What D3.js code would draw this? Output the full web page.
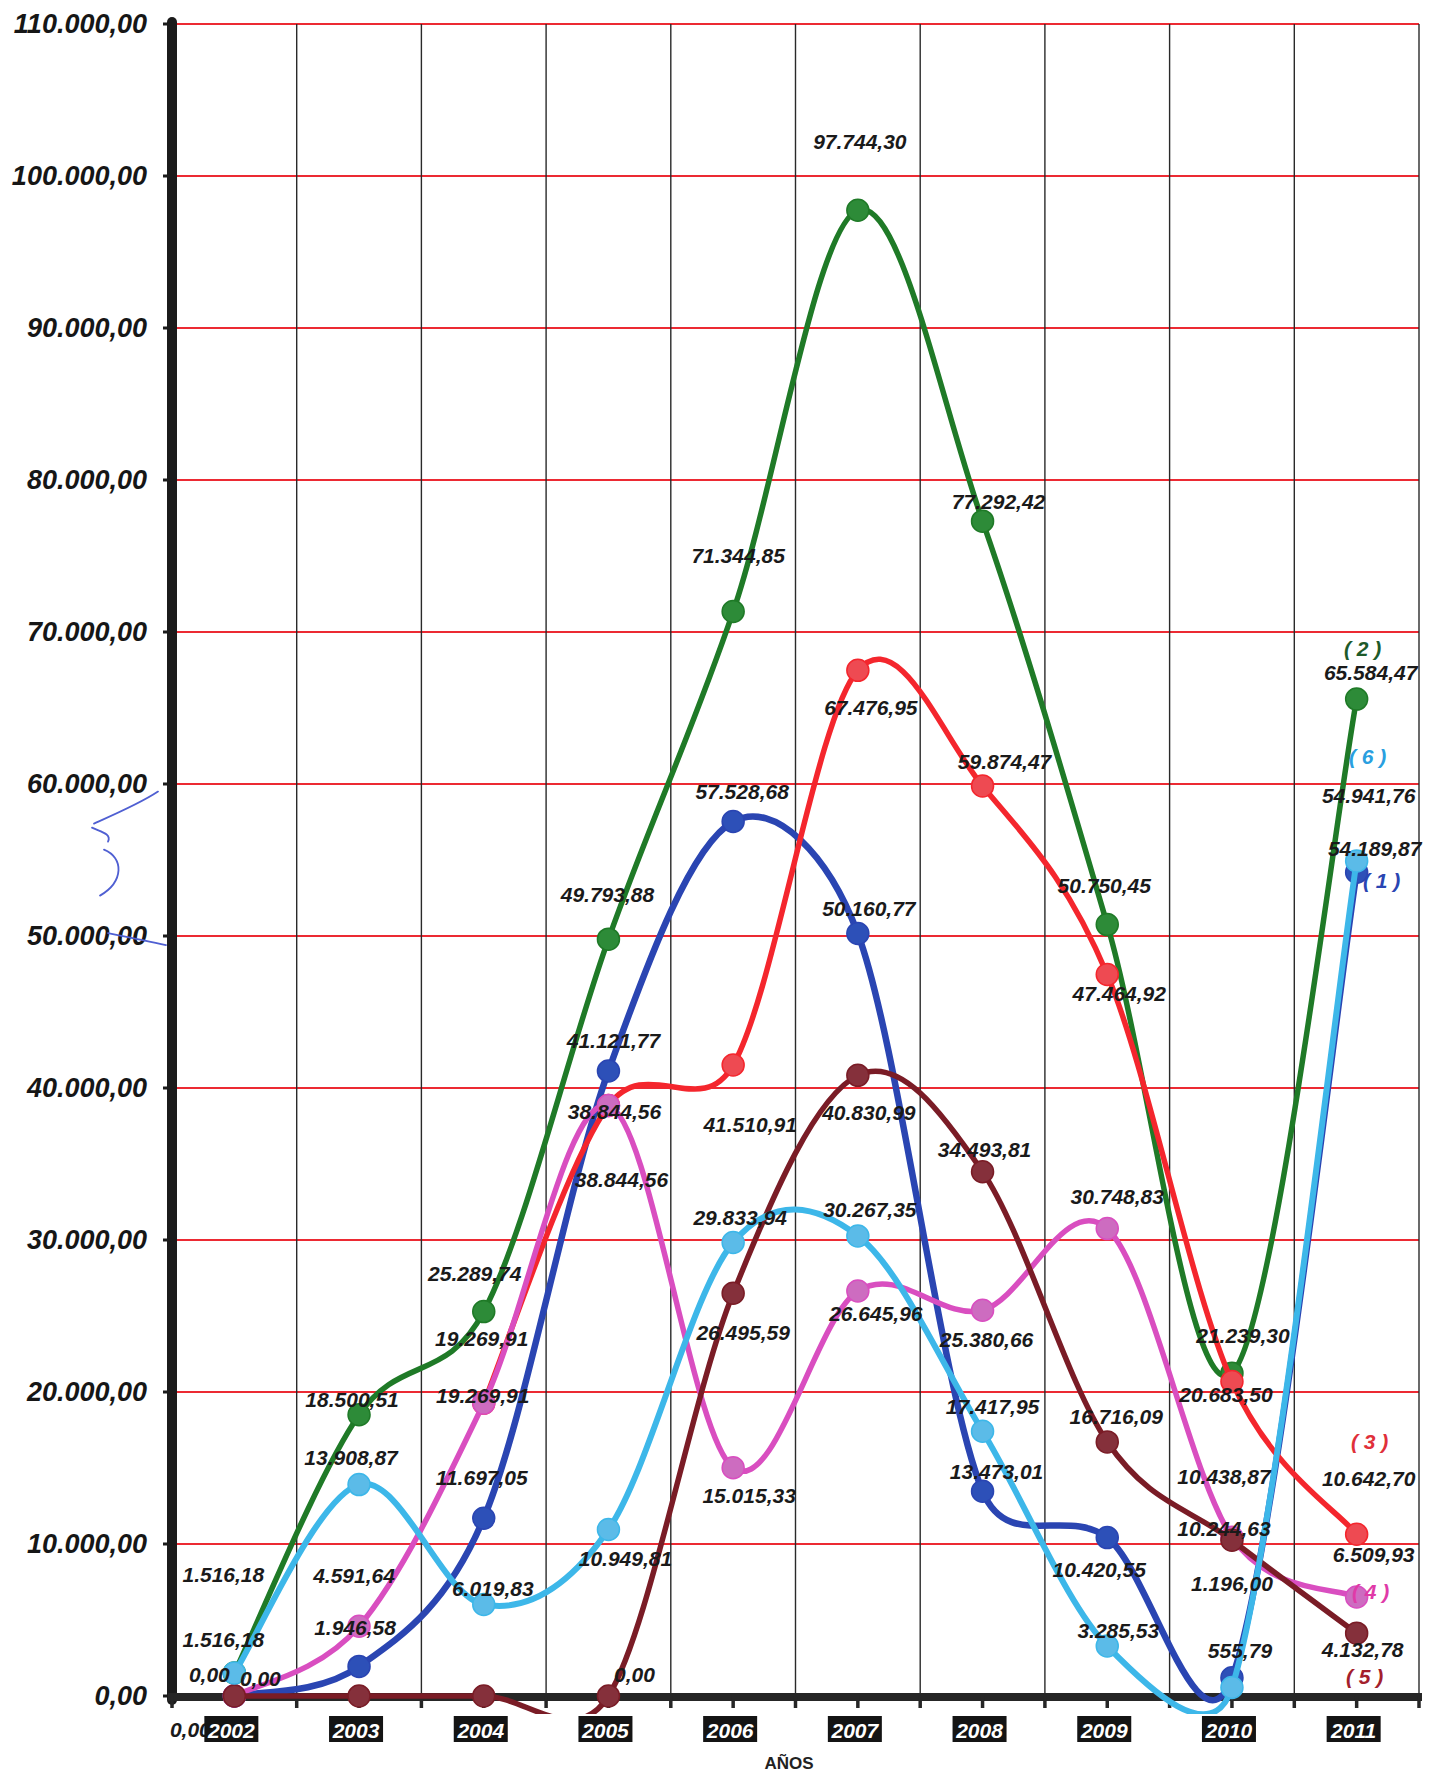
<!DOCTYPE html>
<html>
<head>
<meta charset="utf-8">
<script src="https://cdn.jsdelivr.net/npm/d3@7"></script>
<style>
  html, body { margin: 0; padding: 0; background: #fff; }
  svg { display: block; }
  text { font-family: "Liberation Sans", Arial, sans-serif; }
</style>
</head>
<body>
<svg id="chart" width="1444" height="1775"></svg>
<script>
// Years on the category axis
const years = ["2002", "2003", "2004", "2005", "2006", "2007", "2008", "2009", "2010", "2011"];

// Annual amounts per series (1)..(6); null = no value for that year
const serie1 = [0, 1946.58, 11697.05, 41121.77, 57528.68, 50160.77, 13473.01, 10420.55, 1196.00, 54189.87];
const serie2 = [1516.18, 18500.51, 25289.74, 49793.88, 71344.85, 97744.30, 77292.42, 50750.45, 21239.30, 65584.47];
const serie3 = [null, null, 19269.91, 38844.56, 41510.91, 67476.95, 59874.47, 47464.92, 20683.50, 10642.70];
const serie4 = [0, 4591.64, 19269.91, 38844.56, 15015.33, 26645.96, 25380.66, 30748.83, 10438.87, 6509.93];
const serie5 = [0, 0, 0, 0, 26495.59, 40830.99, 34493.81, 16716.09, 10244.63, 4132.78];
const serie6 = [1516.18, 13908.87, 6019.83, 10949.81, 29833.94, 30267.35, 17417.95, 3285.53, 555.79, 54941.76];

// Value axis ticks
const yTicks = [0, 10000, 20000, 30000, 40000, 50000, 60000, 70000, 80000, 90000, 100000, 110000];

// Series names shown at the end of each line
const serieNames = ["( 1 )", "( 2 )", "( 3 )", "( 4 )", "( 5 )", "( 6 )"];

// ---- styling / layout ----
const seriesStyle = [
  { line: "#2a45b2", marker: "#2d50b8", tag: "#2a45b2", width: 6.5 },
  { line: "#1f7a27", marker: "#2d8b38", tag: "#1d5a2a", width: 5.5 },
  { line: "#f4262d", marker: "#ee4a52", tag: "#e0303a", width: 5.5 },
  { line: "#d94ec0", marker: "#cd6cc0", tag: "#e03aa8", width: 5.5 },
  { line: "#7a1c26", marker: "#85303b", tag: "#a3202c", width: 5.5 },
  { line: "#3db7e9", marker: "#5bbbe8", tag: "#2a9fe0", width: 6 }
];

// Pixel offsets of each value label from its point (null = label not drawn)
const labelOffsets = [
  [[-25,-22],[-4,-39],[-2,-41],[5,-30],[9,-30],[11,-25],[14,-20],[-8,32],[0,-94],[18,-24]],
  [[-11,-98],[-7,-15],[-9,-38],[-1,-45],[5,-56],[2,-69],[16,-20],[-3,-39],[11,-38],[14,-27]],
  [null,null,[-2,-65],[13,74],[17,59],[13,37],[22,-24],[12,19],[-6,13],[12,-56]],
  [[26,-18],[-5,-51],[-1,-8],[6,6],[16,28],[18,23],[4,29],[10,-32],[-8,-61],[17,-43]],
  [[-44,33],null,null,[26,-22],[10,39],[11,37],[2,-22],[9,-25],[-8,-12],[6,16]],
  [[-11,-33],[-8,-27],[9,-16],[17,29],[7,-25],[12,-26],[10,-25],[11,-16],[8,-37],[12,-65]]
];
// Offsets of the series name tags from the last point
const tagOffsets = [[25,8],[6,-51],[13,-93],[14,-6],[8,43],[11,-104]];

const allSeries = [serie1, serie2, serie3, serie4, serie5, serie6];

const plot = { left: 172, right: 1419, top: 24, bottom: 1696 };

const svg = d3.select("#chart");

const x = d3.scaleBand().domain(years).range([plot.left, plot.right]).padding(0);
const y = d3.scaleLinear().domain([0, 110000]).range([plot.bottom, plot.top]);
const xc = d => x(d) + x.bandwidth() / 2;

const locale = d3.formatLocale({ decimal: ",", thousands: ".", grouping: [3], currency: ["", ""] });
const fmt = locale.format(",.2f");

// Spreadsheet-style smoothed line: cubic Bezier segments whose control
// points follow the neighbour chord (1/6), capped at half the segment length.
function smoothCurve(context) {
  let pts = [];
  const dist = (a, b) => Math.hypot(b[0] - a[0], b[1] - a[1]);
  return {
    areaStart() {}, areaEnd() {},
    lineStart() { pts = []; },
    point(px, py) { pts.push([+px, +py]); },
    lineEnd() {
      const n = pts.length;
      if (!n) return;
      context.moveTo(pts[0][0], pts[0][1]);
      for (let i = 0; i < n - 1; i++) {
        const p0 = pts[Math.max(0, i - 1)], p1 = pts[i], p2 = pts[i + 1], p3 = pts[Math.min(n - 1, i + 2)];
        const d12 = dist(p1, p2), d02 = dist(p0, p2), d13 = dist(p1, p3);
        const f1 = (d02 / 6 > d12 / 2 && d02 > 0) ? d12 / 2 / d02 : 1 / 6;
        const f2 = (d13 / 6 > d12 / 2 && d13 > 0) ? d12 / 2 / d13 : 1 / 6;
        context.bezierCurveTo(
          p1[0] + (p2[0] - p0[0]) * f1, p1[1] + (p2[1] - p0[1]) * f1,
          p2[0] - (p3[0] - p1[0]) * f2, p2[1] - (p3[1] - p1[1]) * f2,
          p2[0], p2[1]);
      }
    }
  };
}

// ---- grid ----
const grid = svg.append("g");
grid.selectAll("line.h").data(yTicks.filter(t => t > 0)).join("line")
  .attr("x1", plot.left).attr("x2", plot.right)
  .attr("y1", d => y(d)).attr("y2", d => y(d))
  .attr("stroke", "#ec2a33").attr("stroke-width", 2);
const bounds = years.map(d => x(d)).concat([plot.right]).slice(1);
grid.selectAll("line.v").data(bounds).join("line")
  .attr("x1", d => d).attr("x2", d => d)
  .attr("y1", y(110000)).attr("y2", plot.bottom)
  .attr("stroke", "#2a2a2a").attr("stroke-width", 1.4);

// ---- axes ----
const axes = svg.append("g");
axes.append("line")
  .attr("x1", plot.left).attr("x2", plot.left)
  .attr("y1", plot.top - 2).attr("y2", plot.bottom + 4)
  .attr("stroke", "#1b1b1b").attr("stroke-width", 10).attr("stroke-linecap", "round");
axes.selectAll("line.yt").data(yTicks).join("line")
  .attr("x1", plot.left - 9).attr("x2", plot.left)
  .attr("y1", d => y(d)).attr("y2", d => y(d))
  .attr("stroke", "#1b1b1b").attr("stroke-width", 3);
axes.selectAll("text.yl").data(yTicks).join("text")
  .attr("x", plot.left - 25).attr("y", d => y(d))
  .attr("text-anchor", "end").attr("dominant-baseline", "central")
  .attr("font-size", 27).attr("font-weight", "bold").attr("font-style", "italic")
  .attr("fill", "#161616")
  .text(d => fmt(d));

axes.append("line")
  .attr("x1", plot.left - 4).attr("x2", plot.right + 3)
  .attr("y1", plot.bottom + 1).attr("y2", plot.bottom + 1)
  .attr("stroke", "#262626").attr("stroke-width", 8);
const xTickPos = [plot.left].concat(bounds).concat(years.map(xc));
axes.selectAll("line.xt").data(xTickPos).join("line")
  .attr("x1", d => d).attr("x2", d => d)
  .attr("y1", plot.bottom).attr("y2", plot.bottom + 12)
  .attr("stroke", "#262626").attr("stroke-width", 3.5);

// ---- series ----
svg.append("clipPath").attr("id", "plotClip")
  .append("rect")
  .attr("x", plot.left).attr("y", plot.top - 10)
  .attr("width", plot.right - plot.left).attr("height", plot.bottom - plot.top + 28);

const lineGen = d3.line()
  .defined(d => d.v !== null)
  .x(d => xc(d.year))
  .y(d => y(d.v))
  .curve(smoothCurve);

const seriesLayer = svg.append("g");
allSeries.forEach((vals, si) => {
  const pts = vals.map((v, i) => ({ year: years[i], v: v, i: i }));
  const st = seriesStyle[si];
  const g = seriesLayer.append("g");
  g.append("path")
    .datum(pts)
    .attr("clip-path", "url(#plotClip)")
    .attr("d", lineGen)
    .attr("fill", "none")
    .attr("stroke", st.line)
    .attr("stroke-width", st.width)
    .attr("stroke-linejoin", "round");
  g.selectAll("circle").data(pts.filter(p => p.v !== null)).join("circle")
    .attr("cx", p => xc(p.year))
    .attr("cy", p => y(p.v))
    .attr("r", 11)
    .attr("fill", st.marker)
    .attr("stroke", st.line)
    .attr("stroke-width", 1.5);
});

// ---- value labels ----
const labelLayer = svg.append("g");
allSeries.forEach((vals, si) => {
  vals.forEach((v, i) => {
    const off = labelOffsets[si][i];
    if (v === null || !off) return;
    labelLayer.append("text")
      .attr("x", xc(years[i]) + off[0])
      .attr("y", y(v) + off[1])
      .attr("text-anchor", "middle").attr("dominant-baseline", "central")
      .attr("font-size", 21).attr("font-weight", "bold").attr("font-style", "italic")
      .attr("fill", "#1a1a1a")
      .text(fmt(v));
  });
  const last = vals.length - 1;
  const toff = tagOffsets[si];
  labelLayer.append("text")
    .attr("x", xc(years[last]) + toff[0])
    .attr("y", y(vals[last]) + toff[1])
    .attr("text-anchor", "middle").attr("dominant-baseline", "central")
    .attr("font-size", 21).attr("font-weight", "bold").attr("font-style", "italic")
    .attr("fill", seriesStyle[si].tag)
    .text(serieNames[si]);
});

// ---- category labels: white on black boxes ----
const cat = svg.append("g");
const boxW = 54, boxH = 26, catY = 1729;
cat.selectAll("rect").data(years).join("rect")
  .attr("x", d => xc(d) - boxW / 2 - 3).attr("y", catY - boxH / 2)
  .attr("width", boxW).attr("height", boxH)
  .attr("fill", "#141414");
cat.selectAll("text").data(years).join("text")
  .attr("x", d => xc(d) - 3).attr("y", catY + 1)
  .attr("text-anchor", "middle").attr("dominant-baseline", "central")
  .attr("font-size", 21).attr("font-weight", "bold").attr("font-style", "italic")
  .attr("fill", "#ffffff")
  .text(d => d);

// axis title
svg.append("text")
  .attr("x", 789).attr("y", 1763)
  .attr("text-anchor", "middle").attr("dominant-baseline", "central")
  .attr("font-size", 17).attr("font-weight", "bold")
  .attr("fill", "#222")
  .text("AÑOS");

// pen bracket mark beside the 50.000–60.000 band
const yA = y(59500), yB = y(49800);
const pen = d3.path();
pen.moveTo(158, yA);
pen.bezierCurveTo(140, yA + 12, 112, yA + 24, 94, yA + 32);
pen.moveTo(92, yA + 36);
pen.bezierCurveTo(100, yA + 40, 112, yA + 42, 108, yA + 50);
pen.moveTo(104, yA + 58);
pen.bezierCurveTo(124, yA + 66, 124, yA + 90, 100, yA + 104);
pen.moveTo(108, yB - 6);
pen.bezierCurveTo(128, yB - 2, 148, yB + 2, 166, yB + 6);
svg.append("path")
  .attr("d", pen.toString())
  .attr("fill", "none").attr("stroke", "#4f5fd2").attr("stroke-width", 1.8)
  .attr("stroke-linecap", "round");
</script>
</body>
</html>
